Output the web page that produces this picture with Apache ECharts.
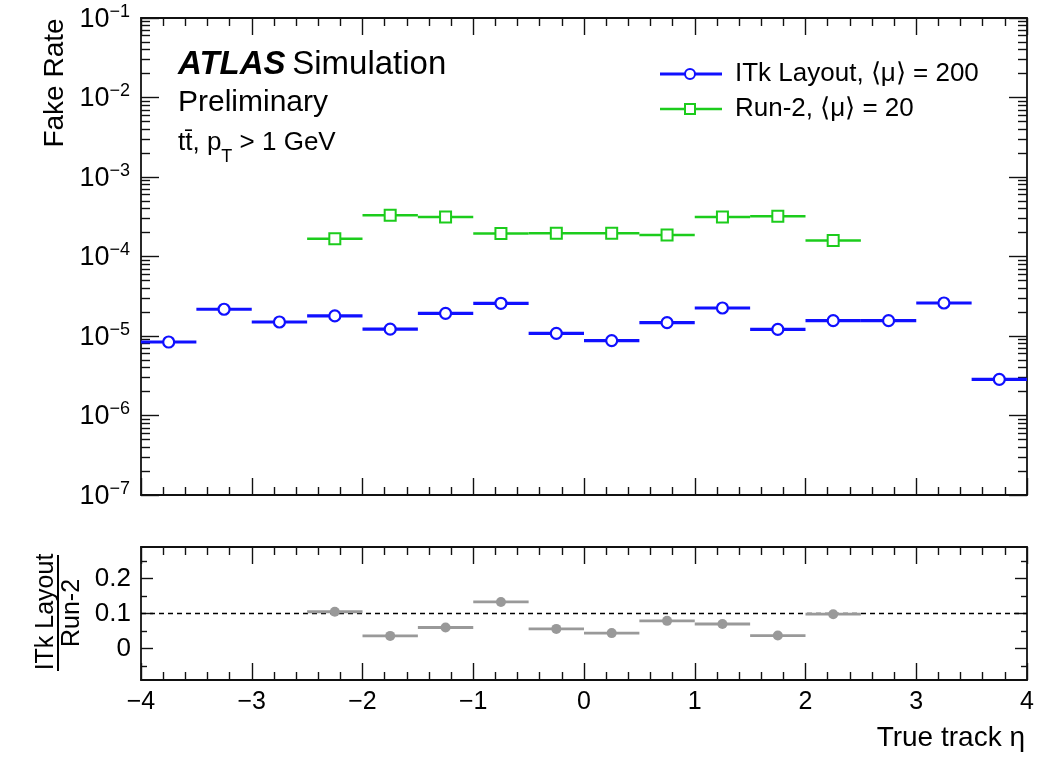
<!DOCTYPE html>
<html><head><meta charset="utf-8">
<script src="https://cdn.jsdelivr.net/npm/echarts@6/dist/echarts.min.js"></script>
<style>html,body{margin:0;padding:0;background:#fff}#c{width:1053px;height:759px}</style>
</head><body><div id="c"></div>
<script>
// ---- data ----
const binLow  = [-4,-3.5,-3,-2.5,-2,-1.5,-1,-0.5,0,0.5,1,1.5,2,2.5,3,3.5];
const binHigh = [-3.5,-3,-2.5,-2,-1.5,-1,-0.5,0,0.5,1,1.5,2,2.5,3,3.5,4];
const itkFake  = [8.4e-6,2.17e-5,1.5e-5,1.79e-5,1.22e-5,1.93e-5,2.58e-5,1.08e-5,8.75e-6,1.47e-5,2.25e-5,1.21e-5,1.56e-5,1.56e-5,2.6e-5,2.85e-6];
const run2Fake = [null,null,null,1.67e-4,3.31e-4,3.13e-4,1.95e-4,1.96e-4,1.96e-4,1.87e-4,3.13e-4,3.22e-4,1.59e-4,null,null,null];
const ratioVals = [null,null,null,0.105,0.036,0.06,0.133,0.056,0.044,0.079,0.07,0.037,0.098,null,null,null];
const yMajorTicks = [1e-7,1e-6,1e-5,1e-4,1e-3,1e-2,1e-1];
const ratioMajorTicks = [0,0.1,0.2];
const ratioMinorTicks = [-0.05,0.05,0.15,0.25];
const seriesNames = ['ITk Layout, \u27E8\u03BC\u27E9 = 200','Run-2, \u27E8\u03BC\u27E9 = 20'];

const yMinorTicks = [];
for (let k=-7;k<=-2;k++) for (let m=2;m<=9;m++) yMinorTicks.push(m*Math.pow(10,k));

const FONT = '"Liberation Sans", Arial, Helvetica, sans-serif';
const BLUE = '#1010ff', GREEN = '#1ccc1c', GREY = '#999999';

function toData(vals){ return binLow.map((lo,i)=>[lo,binHigh[i],vals[i]]).filter(d=>d[2]!==null); }

const chart = echarts.init(document.getElementById('c'), null, {renderer:'canvas'});
const axLine = {color:'#111', width:1.8};
const tickStyle = {color:'#111', width:1.4};

function xAx(grid,pos,showLabel,show){
  return {type:'value', gridIndex:grid, position:pos, min:-4, max:4, interval:1, show: show!==false,
    axisLine:{show:true,onZero:false,lineStyle:axLine},
    axisTick:{show:true,inside:true,length:17,lineStyle:tickStyle},
    minorTick:{show:true,splitNumber:5,length:8,lineStyle:tickStyle},
    axisLabel:{show:showLabel,margin:10,fontSize:25,color:'#000',fontFamily:FONT,
      formatter:v=>String(v).replace('-','\u2212')},
    splitLine:{show:false}, minorSplitLine:{show:false}};
}
function yLog(grid,pos,ticks,len,major,showLabel){
  return {type:'log', logBase:10, gridIndex:grid, position:pos, min:1e-7, max:1e-1,
    axisLine:{show:major,onZero:false,lineStyle:axLine},
    axisTick:{show:true,inside:true,length:len,customValues:ticks,lineStyle:tickStyle},
    axisLabel:{show:showLabel,customValues:yMajorTicks,margin:11,color:'#000',fontFamily:FONT,
      formatter:v=>'{b|10}{s|\u2212'+Math.round(-Math.log10(v))+'}',
      rich:{b:{fontSize:27,lineHeight:30,verticalAlign:'bottom',fontFamily:FONT,color:'#000'},
            s:{fontSize:18,lineHeight:18,verticalAlign:'top',fontFamily:FONT,color:'#000'}}},
    splitLine:{show:false}};
}
function yRatio(grid,pos,ticks,len,major,showLabel){
  return {type:'value', gridIndex:grid, position:pos, min:-0.09, max:0.29,
    axisLine:{show:major,onZero:false,lineStyle:axLine},
    axisTick:{show:true,inside:true,length:len,customValues:ticks,lineStyle:tickStyle},
    axisLabel:{show:showLabel,customValues:ratioMajorTicks,margin:10,fontSize:26,color:'#000',fontFamily:FONT,
      formatter:v=>v===0?'0':v.toFixed(1)},
    splitLine:{show:false}};
}

function binRender(color,lw,marker){
  return function(params,api){
    const lo=api.value(0), hi=api.value(1), v=api.value(2);
    const p1=api.coord([lo,v]), p2=api.coord([hi,v]), c=api.coord([(lo+hi)/2,v]);
    const children=[{type:'line',shape:{x1:p1[0],y1:p1[1],x2:p2[0],y2:p2[1]},style:{stroke:color,lineWidth:lw}}];
    if(marker==='circle') children.push({type:'circle',shape:{cx:c[0],cy:c[1],r:5.5},style:{fill:'#fff',stroke:color,lineWidth:2.2}});
    else if(marker==='square') children.push({type:'rect',shape:{x:c[0]-5.5,y:c[1]-5.5,width:11,height:11},style:{fill:'#fff',stroke:color,lineWidth:2}});
    else children.push({type:'circle',shape:{cx:c[0],cy:c[1],r:5},style:{fill:color}});
    return {type:'group',children};
  };
}

const gMain = {left:141, top:18, width:886, height:477};
const gRatio = {left:141, top:547, width:886, height:133};

chart.setOption({
  backgroundColor:'#fff',
  animation:false,
  grid:[Object.assign({outerBoundsMode:'none'},gMain),Object.assign({outerBoundsMode:'none'},gRatio),
        Object.assign({outerBoundsMode:'none'},gMain),Object.assign({outerBoundsMode:'none'},gRatio)],
  xAxis:[xAx(0,'bottom',false),xAx(0,'top',false),xAx(1,'bottom',true),xAx(1,'top',false),
         xAx(2,'bottom',false,false),xAx(3,'bottom',false,false)],
  yAxis:[yLog(0,'left',yMajorTicks,18,true,true),yLog(0,'right',yMajorTicks,18,true,false),
         yRatio(1,'left',ratioMajorTicks,12,true,true),yRatio(1,'right',ratioMajorTicks,12,true,false),
         yLog(2,'left',yMinorTicks,9,false,false),yLog(2,'right',yMinorTicks,9,false,false),
         yRatio(3,'left',ratioMinorTicks,6,false,false),yRatio(3,'right',ratioMinorTicks,6,false,false)],
  series:[
    {type:'custom',name:seriesNames[0],xAxisIndex:0,yAxisIndex:0,data:toData(itkFake),renderItem:binRender(BLUE,3.2,'circle'),z:5},
    {type:'custom',name:seriesNames[1],xAxisIndex:0,yAxisIndex:0,data:toData(run2Fake),renderItem:binRender(GREEN,2.5,'square'),z:4},
    {type:'line',xAxisIndex:2,yAxisIndex:2,data:[[-4,0.1],[4,0.1]],symbol:'none',silent:true,
      lineStyle:{color:'#000',width:1.4,type:[5,4]},z:3},
    {type:'custom',name:'ratio',xAxisIndex:2,yAxisIndex:2,data:toData(ratioVals),renderItem:binRender(GREY,2.8,'dot'),z:4}
  ],
  graphic:[
    {type:'text',x:55,y:83,rotation:Math.PI/2,style:{text:'Fake Rate',font:'28px '+FONT,fill:'#000',align:'center',verticalAlign:'middle'}},
    {type:'text',x:178,y:65,style:{text:'{a|ATLAS}  {b|Simulation}',verticalAlign:'middle',
      rich:{a:{fontSize:33,fontStyle:'italic',fontWeight:'bold',fontFamily:FONT,fill:'#000'},b:{fontSize:33,fontFamily:FONT,fill:'#000'}}}},
    {type:'text',x:178,y:103,style:{text:'Preliminary',font:'30px '+FONT,fill:'#000',verticalAlign:'middle'}},
    {type:'text',x:178,y:130,style:{text:'{n|tt\u0304, p}{t|T}{n| > 1 GeV}',verticalAlign:'top',
      rich:{n:{fontSize:26,lineHeight:28,verticalAlign:'top',fontFamily:FONT,fill:'#000'},
            t:{fontSize:18,lineHeight:36,verticalAlign:'bottom',fontFamily:FONT,fill:'#000'}}}},
    // legend
    {type:'line',shape:{x1:660,y1:74,x2:722,y2:74},style:{stroke:BLUE,lineWidth:3}},
    {type:'circle',shape:{cx:690,cy:74,r:5},style:{fill:'#fff',stroke:BLUE,lineWidth:2}},
    {type:'text',x:735,y:74,style:{text:seriesNames[0],font:'26px '+FONT,fill:'#000',verticalAlign:'middle'}},
    {type:'line',shape:{x1:660,y1:109,x2:722,y2:109},style:{stroke:GREEN,lineWidth:2.5}},
    {type:'rect',shape:{x:685,y:104,width:10,height:10},style:{fill:'#fff',stroke:GREEN,lineWidth:2}},
    {type:'text',x:735,y:109,style:{text:seriesNames[1],font:'26px '+FONT,fill:'#000',verticalAlign:'middle'}},
    // ratio title
    {type:'text',x:46,y:612,rotation:Math.PI/2,style:{text:'ITk Layout',font:'25px '+FONT,fill:'#000',align:'center',verticalAlign:'middle'}},
    {type:'line',shape:{x1:58,y1:555,x2:58,y2:671},style:{stroke:'#000',lineWidth:2}},
    {type:'text',x:72,y:613,rotation:Math.PI/2,style:{text:'Run-2',font:'25px '+FONT,fill:'#000',align:'center',verticalAlign:'middle'}},
    // x title
    {type:'text',x:1025,y:738,style:{text:'True track \u03B7',font:'28px '+FONT,fill:'#000',align:'right',verticalAlign:'middle'}}
  ]
});
</script></body></html>
